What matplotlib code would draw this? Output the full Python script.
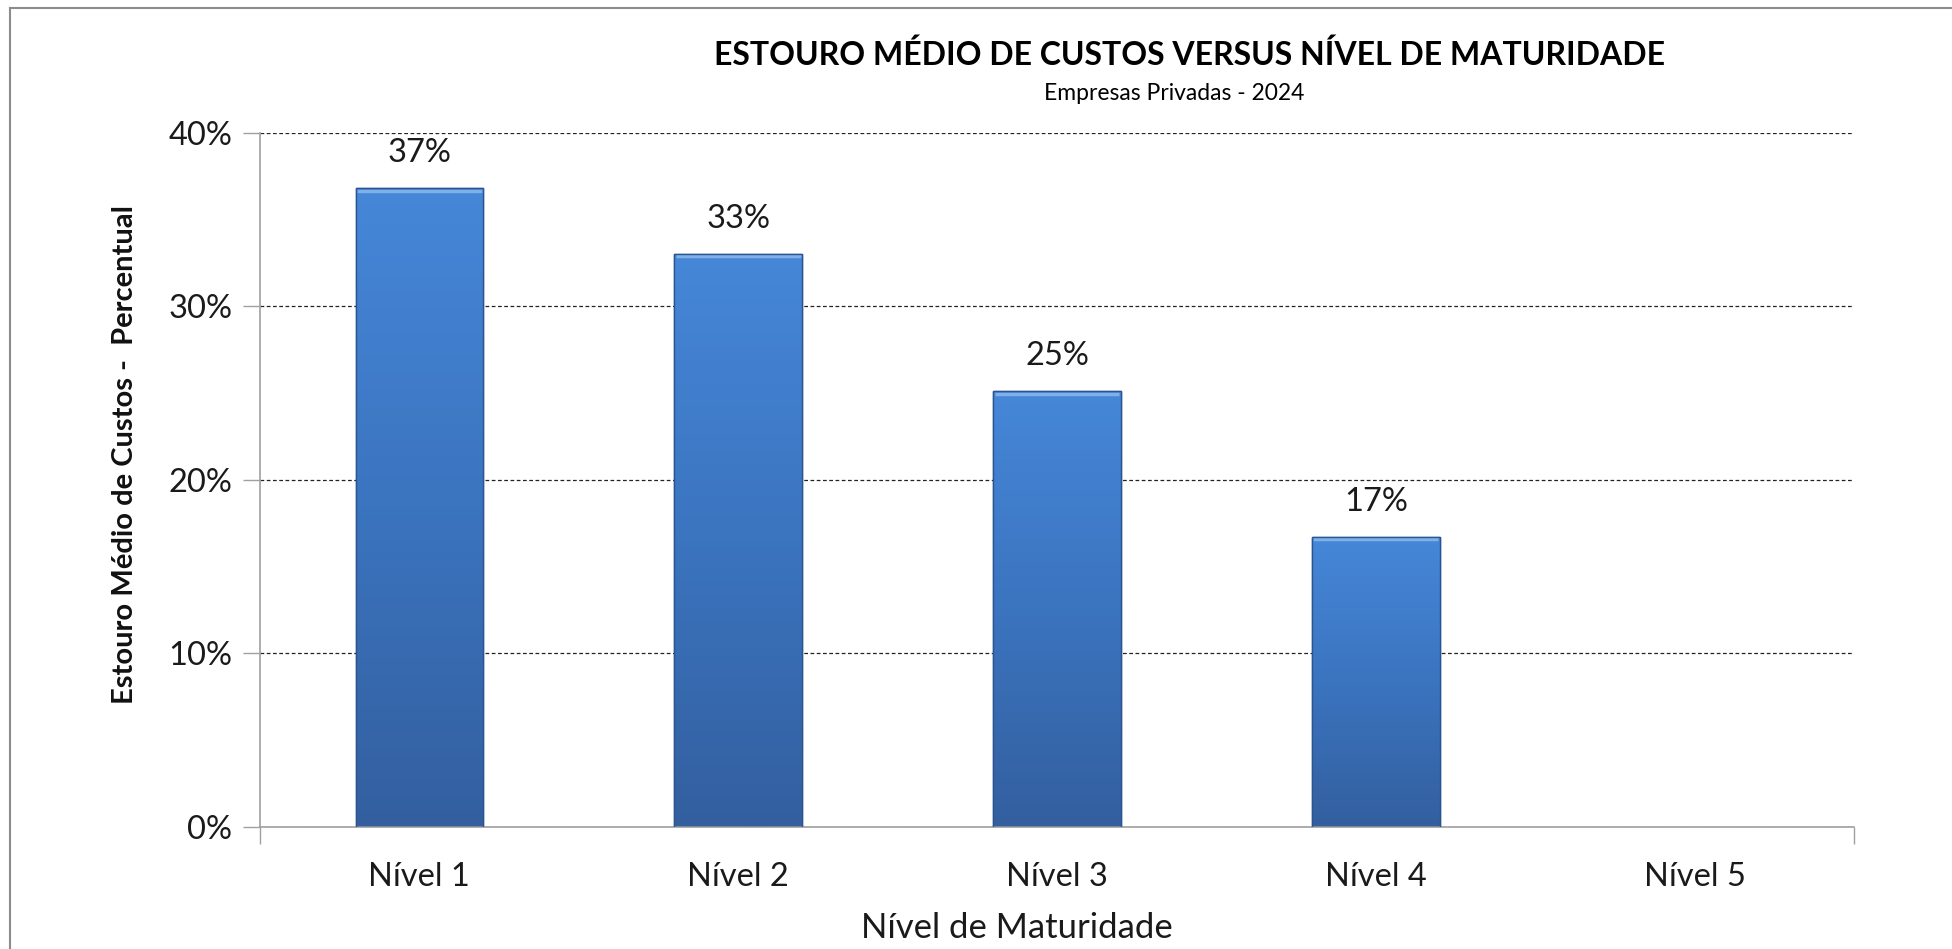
import numpy as np
import matplotlib
matplotlib.use("Agg")
import matplotlib.pyplot as plt
from matplotlib.lines import Line2D
from matplotlib.colors import LinearSegmentedColormap
from matplotlib.ticker import PercentFormatter

# data
niveis = ["Nível 1", "Nível 2", "Nível 3", "Nível 4", "Nível 5"]
estouro = [0.368, 0.330, 0.251, 0.167, np.nan]
rotulos = ["37%", "33%", "25%", "17%", ""]

plt.rcParams['font.family'] = ['Lato', 'DejaVu Sans']

fig = plt.figure(figsize=(19.52, 9.49), dpi=100)
ax = fig.add_axes([0.1332, 0.1286, 0.8166, 0.7313])

x = np.arange(len(niveis))
bars = ax.bar(x, estouro, width=0.4, color="#3f7ac8", edgecolor="#2b5590",
              linewidth=1.0, zorder=2)

# vertical gradient inside each bar (lighter on top, darker at base)
grad = LinearSegmentedColormap.from_list("g", ["#335f9f", "#3b74bf", "#4687d8"])
for b in bars:
    h = b.get_height()
    if np.isnan(h):
        continue
    x0 = b.get_x()
    w = b.get_width()
    img = ax.imshow(np.linspace(0, 1, 256).reshape(-1, 1), cmap=grad,
                    extent=[x0, x0 + w, 0, h], origin="lower",
                    aspect="auto", zorder=2.5)
    img.set_clip_path(b)
    # light bevel at the top
    ax.plot([x0 + 0.004, x0 + w - 0.004], [h - 0.0012, h - 0.0012],
            color="#7fb0ea", lw=2.5, zorder=3, solid_capstyle="butt")
    ax.add_patch(plt.Rectangle((x0, 0), w, h, fill=False,
                               edgecolor="#2b5590", lw=1.0, zorder=3.5))

for xi, v, t in zip(x, estouro, rotulos):
    if np.isnan(v):
        continue
    ax.text(xi, v + 0.0205, t, ha="center", va="center", fontsize=23.5,
            color="#1a1a1a")

ax.set_xlim(-0.5, 4.5)
ax.set_ylim(0, 0.40)
ax.set_yticks(np.arange(0, 0.41, 0.1))
ax.yaxis.set_major_formatter(PercentFormatter(1.0, decimals=0))
ax.tick_params(axis="y", length=12, width=1, color="#a0a0a0",
               labelsize=23.5, pad=8, labelcolor="#1a1a1a")

ax.set_xticks([-0.5, 4.5])
ax.set_xticklabels(["", ""])
ax.tick_params(axis="x", length=12, width=1, color="#a0a0a0")
ax.set_xticks(x, minor=True)
ax.set_xticklabels(niveis, minor=True)
ax.tick_params(axis="x", which="minor", length=0, labelsize=23.5, pad=25,
               labelcolor="#1a1a1a")

ax.yaxis.grid(True, linestyle=(0, (3, 2)), color="#222222", lw=0.9, zorder=0)
ax.set_axisbelow(True)

for s in ["top", "right"]:
    ax.spines[s].set_visible(False)
for s in ["left", "bottom"]:
    ax.spines[s].set_color("#a0a0a0")
    ax.spines[s].set_linewidth(1.2)

fig.text(125 / 1952, 1 - 454 / 949, "Estouro Médio de Custos -  Percentual",
         rotation=90, ha="center", va="center", fontsize=21,
         fontweight="bold", color="#111111")
fig.text(1017 / 1952, 1 - 928 / 949, "Nível de Maturidade", ha="center",
         va="center", fontsize=25, color="#1a1a1a")

fig.text(1189 / 1952, 1 - 55 / 949,
         "ESTOURO MÉDIO DE CUSTOS VERSUS NÍVEL DE MATURIDADE",
         ha="center", va="center", fontsize=23, fontweight="bold")
fig.text(1174 / 1952, 1 - 93 / 949, "Empresas Privadas - 2024",
         ha="center", va="center", fontsize=16.5)

# outer frame of the chart area
fig.add_artist(Line2D([10 / 1952, 10 / 1952], [0, 1 - 8 / 949],
                      color="#8c8c8c", lw=1.5, transform=fig.transFigure))
fig.add_artist(Line2D([10 / 1952, 1], [1 - 8 / 949, 1 - 8 / 949],
                      color="#8c8c8c", lw=1.5, transform=fig.transFigure))

fig.savefig("out.png", dpi=100, facecolor="white")
